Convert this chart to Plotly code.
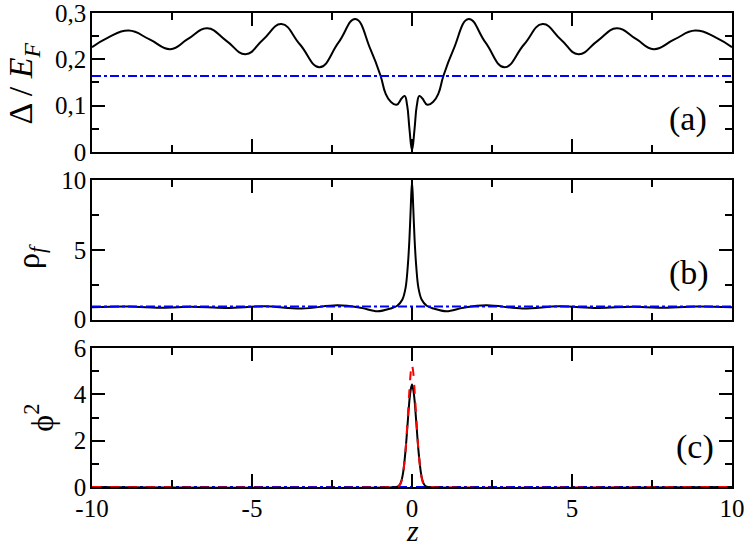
import plotly.graph_objects as go

# panel (a): gap profile
z_gap = [-10, -9.5, -8.85, -8.2, -7.55, -7.0, -6.4, -5.8, -5.2, -4.65, -4.08, -3.5,
         -2.89, -2.3, -1.77, -1.3, -0.98, -0.83, -0.67, -0.48, -0.32, -0.23, -0.15,
         -0.08, 0, 0.08, 0.15, 0.23, 0.32, 0.48, 0.67, 0.83, 0.98, 1.3, 1.77, 2.3,
         2.89, 3.5, 4.08, 4.65, 5.2, 5.8, 6.4, 7.0, 7.55, 8.2, 8.85, 9.5, 10]
gap = [0.226, 0.247, 0.262, 0.243, 0.222, 0.244, 0.267, 0.240, 0.211, 0.243, 0.276, 0.232,
       0.183, 0.236, 0.287, 0.222, 0.164, 0.127, 0.109, 0.102, 0.116, 0.121, 0.100,
       0.050, 0.004, 0.050, 0.100, 0.121, 0.116, 0.102, 0.109, 0.127, 0.164, 0.222, 0.287, 0.236,
       0.183, 0.232, 0.276, 0.243, 0.211, 0.240, 0.267, 0.244, 0.222, 0.243, 0.262, 0.247, 0.226]
gap_bulk = 0.164

# panel (b): density
z_rho = [-10, -8.9, -7.7, -6.9, -5.8, -4.6, -3.45, -2.32, -1.6, -1.08, -0.67, -0.46,
         -0.3, -0.2, -0.13, -0.08, -0.04, 0, 0.04, 0.08, 0.13, 0.2, 0.3, 0.46, 0.67,
         1.08, 1.6, 2.32, 3.45, 4.6, 5.8, 6.9, 7.7, 8.9, 10]
rho = [0.90, 0.94, 0.86, 0.93, 0.84, 0.96, 0.80, 1.03, 0.85, 0.60, 0.80, 1.0,
       1.45, 2.3, 3.9, 5.8, 8.0, 9.93, 8.0, 5.8, 3.9, 2.3, 1.45, 1.0, 0.80,
       0.60, 0.85, 1.03, 0.80, 0.96, 0.84, 0.93, 0.86, 0.94, 0.90]
rho_bulk = 0.95

# panel (c): phi^2
z_phi = [-10, -0.5, -0.42, -0.35, -0.28, -0.2, -0.14, -0.08, -0.04, 0,
         0.04, 0.08, 0.14, 0.2, 0.28, 0.35, 0.42, 0.5, 10]
phi_num = [0, 0, 0.04, 0.19, 0.6, 1.6, 2.68, 3.75, 4.2, 4.42,
           4.2, 3.75, 2.68, 1.6, 0.6, 0.19, 0.04, 0, 0]
phi_fit = [0, 0, 0.03, 0.16, 0.55, 1.6, 2.85, 4.2, 4.95, 5.28,
           4.95, 4.2, 2.85, 1.6, 0.55, 0.16, 0.03, 0, 0]

x_ticks = [-10, -5, 0, 5, 10]
x_ticklabels = ["-10", "-5", "0", "5", "10"]
gap_ticks = [0, 0.1, 0.2, 0.3]
rho_ticks = [0, 5, 10]
phi_ticks = [0, 2, 4, 6]

SERIF = "Liberation Serif, Times New Roman, Times, serif"

fig = go.Figure()

fig.add_trace(go.Scatter(x=z_gap, y=gap, mode="lines", xaxis="x", yaxis="y",
                         line=dict(color="black", width=2, shape="spline", smoothing=1.3)))
fig.add_trace(go.Scatter(x=[-10, 10], y=[gap_bulk, gap_bulk], mode="lines", xaxis="x", yaxis="y",
                         line=dict(color="#0000ff", width=2, dash="dashdot")))

fig.add_trace(go.Scatter(x=z_rho, y=rho, mode="lines", xaxis="x2", yaxis="y2",
                         line=dict(color="black", width=2, shape="spline", smoothing=1.0)))
fig.add_trace(go.Scatter(x=[-10, 10], y=[rho_bulk, rho_bulk], mode="lines", xaxis="x2", yaxis="y2",
                         line=dict(color="#0000ff", width=2, dash="dashdot")))

fig.add_trace(go.Scatter(x=[-10, 10], y=[0, 0], mode="lines", xaxis="x3", yaxis="y3",
                         line=dict(color="#0000ff", width=2, dash="dashdot")))
fig.add_trace(go.Scatter(x=z_phi, y=phi_num, mode="lines", xaxis="x3", yaxis="y3",
                         line=dict(color="black", width=2, shape="spline", smoothing=0.6)))
fig.add_trace(go.Scatter(x=z_phi, y=phi_fit, mode="lines", xaxis="x3", yaxis="y3",
                         line=dict(color="#ff0000", width=2, dash="dash", shape="spline", smoothing=0.6)))

axis_common = dict(showline=True, linecolor="black", linewidth=1.5, mirror="ticks",
                   ticks="inside", tickwidth=1.5, tickcolor="black", showgrid=False,
                   zeroline=False, automargin=False, ticklabeloverflow="allow",
                   tickfont=dict(family=SERIF, size=25, color="black"))

def xax(anchor, labels):
    return dict(axis_common, range=[-10, 10], anchor=anchor, tickvals=x_ticks,
                ticktext=x_ticklabels, showticklabels=labels, ticklen=13,
                ticklabelstandoff=-2,
                minor=dict(ticks="inside", ticklen=7, dtick=2.5, tickwidth=1.5,
                           tickcolor="black", showgrid=False))

def yax(anchor, rng, ticks, domain):
    step = ticks[1] - ticks[0]
    return dict(axis_common, range=rng, anchor=anchor, tickvals=ticks, ticklen=13,
                domain=domain, ticklabelstandoff=-1,
                minor=dict(ticks="inside", ticklen=7, tick0=0, dtick=step / 2, tickwidth=1.5,
                           tickcolor="black", showgrid=False))

fig.update_layout(
    width=747, height=542,
    margin=dict(l=92, r=15, t=13, b=55),
    paper_bgcolor="white", plot_bgcolor="white",
    showlegend=False,
    separators=",.",
    xaxis=xax("y", False),
    xaxis2=xax("y2", False),
    xaxis3=xax("y3", True),
    yaxis=yax("x", [0, 0.3], gap_ticks, [0.7068, 1.0]),
    yaxis2=yax("x2", [0, 10], rho_ticks, [0.353, 0.6468]),
    yaxis3=yax("x3", [0, 6], phi_ticks, [0.0, 0.2932]),
)

ann = dict(xref="paper", yref="paper", showarrow=False, xanchor="center", yanchor="middle")
fig.add_annotation(ann, x=-0.107, y=0.850, text="Δ / <i>E<sub>F</sub></i>", textangle=-90,
                   font=dict(family=SERIF, size=34, color="black"))
fig.add_annotation(ann, x=-0.097, y=0.487, text="ρ<sub><i>f</i></sub>", textangle=-90,
                   font=dict(family=SERIF, size=32, color="black"))
fig.add_annotation(ann, x=-0.083, y=0.146, text="ϕ<sup>2</sup>", textangle=-90,
                   font=dict(family=SERIF, size=32, color="black"))
fig.add_annotation(ann, x=0.5, y=-0.091, text="<i>z</i>",
                   font=dict(family=SERIF, size=30, color="black"))
fig.add_annotation(ann, x=0.931, y=0.776, text="(a)", font=dict(family=SERIF, size=34, color="black"))
fig.add_annotation(ann, x=0.933, y=0.451, text="(b)", font=dict(family=SERIF, size=34, color="black"))
fig.add_annotation(ann, x=0.942, y=0.084, text="(c)", font=dict(family=SERIF, size=34, color="black"))

# page body has a default 8px margin; drop it so the figure sits at the window origin
fig.write_html("out.html", config={"displayModeBar": False},
               post_script="document.body.style.margin='0';")
